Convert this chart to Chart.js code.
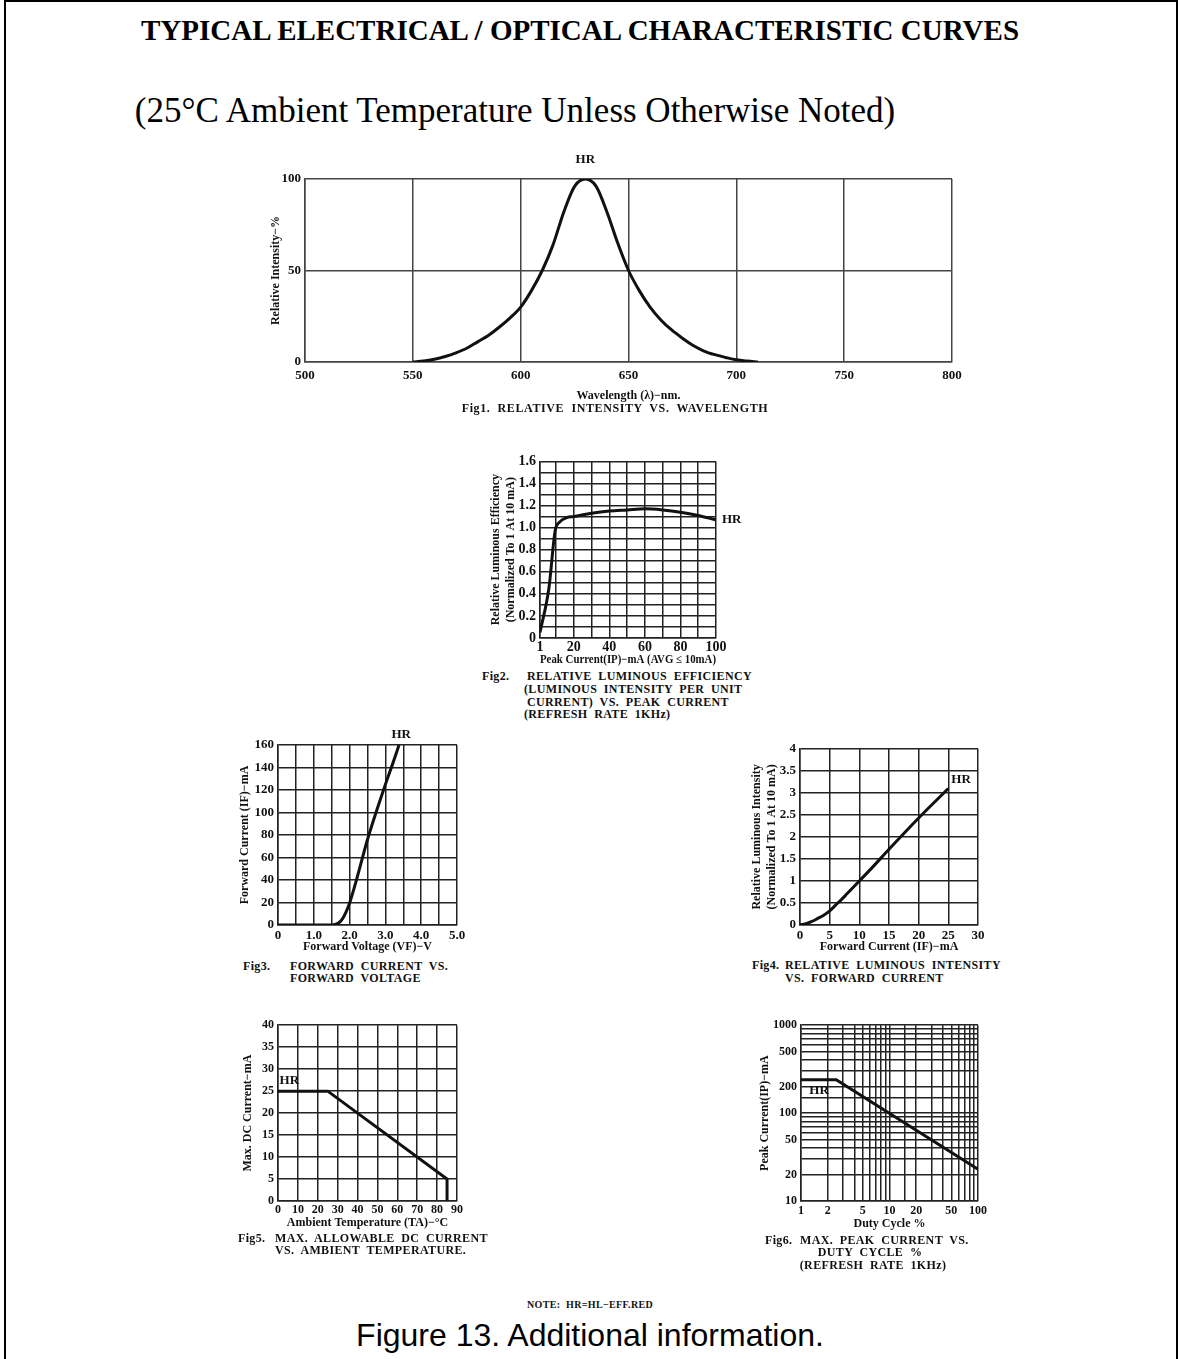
<!DOCTYPE html>
<html lang="en">
<head>
<meta charset="UTF-8">
<title>Typical Electrical / Optical Characteristic Curves</title>
<script src="https://cdn.jsdelivr.net/npm/chart.js"></script>
<style>
    html, body { margin: 0; padding: 0; background: #fff; }
    body { width: 1181px; height: 1359px; position: relative; overflow: hidden; }
    .frame { position: absolute; left: 4px; top: 0; width: 1174px; height: 1380px; border: 2px solid #000; box-sizing: border-box; }
    canvas { position: absolute; }
    .txt { position: absolute; white-space: pre; font-family: "Liberation Serif", serif; font-weight: bold; font-size: 12px; letter-spacing: 0.35px; color: #111; line-height: 1; }
    .c { transform: translate(-50%, -50%); }
    .l { transform: translate(0, -50%); }
    .head { font-size: 29px; letter-spacing: 0; color: #000; }
    .sub { font-weight: normal; font-size: 35px; letter-spacing: 0; color: #000; }
    .foot { font-family: "Liberation Sans", Arial, sans-serif; font-weight: normal; font-size: 32px; letter-spacing: 0; color: #000; }
</style>
</head>
<body>
<div class="frame"></div>

<div class="txt head c" style="left:580px;top:30px">TYPICAL ELECTRICAL / OPTICAL CHARACTERISTIC CURVES</div>
<div class="txt sub c" style="left:515px;top:110px">(25°C Ambient Temperature Unless Otherwise Noted)</div>

<canvas id="fig1"></canvas>
<canvas id="fig2"></canvas>
<canvas id="fig3"></canvas>
<canvas id="fig4"></canvas>
<canvas id="fig5"></canvas>
<canvas id="fig6"></canvas>

<div class="txt c" style="left:615px;top:408px;letter-spacing:0.6px">Fig1.  RELATIVE  INTENSITY  VS.  WAVELENGTH</div>

<div class="txt l" style="left:482px;top:676px">Fig2.</div>
<div class="txt l" style="left:527px;top:676px">RELATIVE  LUMINOUS  EFFICIENCY</div>
<div class="txt l" style="left:524px;top:689px">(LUMINOUS  INTENSITY  PER  UNIT</div>
<div class="txt l" style="left:527px;top:702px">CURRENT)  VS.  PEAK  CURRENT</div>
<div class="txt l" style="left:524px;top:714px">(REFRESH  RATE  1KHz)</div>

<div class="txt l" style="left:243px;top:966px">Fig3.</div>
<div class="txt l" style="left:290px;top:966px">FORWARD  CURRENT  VS.</div>
<div class="txt l" style="left:290px;top:978px">FORWARD  VOLTAGE</div>

<div class="txt l" style="left:752px;top:965px">Fig4.</div>
<div class="txt l" style="left:785px;top:965px">RELATIVE  LUMINOUS  INTENSITY</div>
<div class="txt l" style="left:785px;top:978px">VS.  FORWARD  CURRENT</div>

<div class="txt l" style="left:238px;top:1238px">Fig5.</div>
<div class="txt l" style="left:275px;top:1238px">MAX.  ALLOWABLE  DC  CURRENT</div>
<div class="txt l" style="left:275px;top:1250px">VS.  AMBIENT  TEMPERATURE.</div>

<div class="txt l" style="left:765px;top:1240px">Fig6.</div>
<div class="txt l" style="left:800px;top:1240px">MAX.  PEAK  CURRENT  VS.</div>
<div class="txt c" style="left:870px;top:1252px">DUTY  CYCLE  %</div>
<div class="txt c" style="left:873px;top:1265px">(REFRESH  RATE  1KHz)</div>

<div class="txt c" style="left:590px;top:1305px;font-size:10px">NOTE:  HR=HL−EFF.RED</div>
<div class="txt foot c" style="left:590px;top:1335px">Figure 13. Additional information.</div>

<script>
    // Fig1: relative intensity vs wavelength
    const fig1Wavelength = [550, 555, 560, 565, 570, 575, 580, 585, 590, 595, 600, 605, 610, 615, 620, 625, 630,
                            635, 640, 645, 650, 655, 660, 665, 670, 675, 680, 685, 690, 695, 700, 705, 710];
    const fig1Intensity = [0, 0.5, 1.5, 3, 5, 7.5, 11, 14.5, 19, 24, 30, 39, 50, 64, 82, 96, 100,
                           96, 82, 65, 50, 39, 30, 23, 17.5, 13, 9, 6, 4, 2.5, 1.2, 0.5, 0];

    // Fig2: relative luminous efficiency vs peak current
    const fig2Peak = [1, 6, 9.5, 12, 16, 20, 30, 40, 50, 60, 70, 80, 90, 100];
    const fig2Efficiency = [0.05, 0.45, 0.97, 1.05, 1.09, 1.10, 1.13, 1.15, 1.16, 1.17, 1.16, 1.14, 1.11, 1.07];
    const fig2XGrid = [1, 10, 20, 30, 40, 50, 60, 70, 80, 90, 100];
    const fig2XLabels = [1, 20, 40, 60, 80, 100];

    // Fig3: forward current vs forward voltage
    const fig3Voltage = [0, 1.5, 1.6, 1.7, 1.8, 1.9, 2.0, 2.2, 2.5, 2.8, 3.0, 3.2, 3.38];
    const fig3Current = [0, 0, 0.5, 2, 5.5, 11.5, 19.5, 41, 76, 106, 125, 143, 160];

    // Fig4: relative luminous intensity vs forward current
    const fig4Current = [0, 1, 2, 3, 4, 5, 6, 7, 8, 10, 12, 15, 20, 25];
    const fig4Intensity = [0, 0.03, 0.08, 0.15, 0.22, 0.32, 0.45, 0.58, 0.72, 1.0, 1.28, 1.72, 2.43, 3.1];

    // Fig5: max DC current vs ambient temperature
    const fig5Temp = [0, 25, 85, 85];
    const fig5Current = [25, 25, 5, 0];

    // Fig6: max peak current vs duty cycle (log/log)
    const fig6Duty = [1, 2.5, 100];
    const fig6Peak = [240, 240, 23];
    const fig6XLabels = [1, 2, 5, 10, 20, 50, 100];
    const fig6YLabels = [10, 20, 50, 100, 200, 500, 1000];

    const INK = '#111';
    const SERIF = '"Liberation Serif", serif';

    const seriesTag = {
        id: 'seriesTag',
        afterDatasetsDraw(chart, args, opts) {
            if (!opts || !opts.text) return;
            const { ctx, scales: { x, y } } = chart;
            ctx.save();
            ctx.font = 'bold 13px ' + SERIF;
            ctx.fillStyle = INK;
            ctx.textAlign = opts.align || 'center';
            ctx.textBaseline = 'middle';
            ctx.fillText(opts.text, x.getPixelForValue(opts.x) + (opts.dx || 0), y.getPixelForValue(opts.y) + (opts.dy || 0));
            ctx.restore();
        }
    };

    function pts(xs, ys) {
        return xs.map((v, i) => ({ x: v, y: ys[i] }));
    }

    // size + place canvas so the plot area lands on the given box
    function figure(id, f) {
        const cv = document.getElementById(id);
        const left = f.plot.l - f.yW - f.pad.l;
        const top = f.plot.t - f.pad.t;
        cv.width = f.plot.r + f.pad.r - left;
        cv.height = f.plot.b + f.xH + f.pad.b - top;
        cv.style.left = left + 'px';
        cv.style.top = top + 'px';

        const grid = { color: f.gridColor || '#222', lineWidth: f.gridWidth || 1.5, drawTicks: false };
        const border = { color: f.gridColor || '#222', width: f.gridWidth || 1.5 };
        const tickFont = { family: SERIF, size: f.tickSize || 13, weight: 'bold' };
        const titleFont = { family: SERIF, size: 12, weight: 'bold', lineHeight: 1.2 };

        const x = Object.assign({
            type: 'linear',
            afterFit(s) { s.height = f.xH; },
            grid, border,
            ticks: { autoSkip: false, maxRotation: 0, padding: f.xTickPad || 4, color: INK, font: tickFont },
            title: { display: true, text: f.xTitle, color: INK, font: titleFont, padding: { top: 0, bottom: 0 } }
        }, f.x);
        x.ticks = Object.assign(x.ticks, f.xTicks || {});

        const y = Object.assign({
            type: 'linear',
            afterFit(s) { s.width = f.yW; },
            grid, border,
            ticks: { autoSkip: false, padding: 4, color: INK, font: tickFont },
            title: { display: true, text: f.yTitle, color: INK, font: titleFont, padding: { top: f.yTitlePad, bottom: 0 } }
        }, f.y);
        y.ticks = Object.assign(y.ticks, f.yTicks || {});

        return new Chart(cv, {
            type: 'line',
            data: {
                datasets: [{
                    data: f.data,
                    borderColor: INK,
                    borderWidth: 3,
                    pointRadius: 0,
                    fill: false,
                    tension: f.smooth ? 0.4 : 0,
                    cubicInterpolationMode: f.smooth ? 'monotone' : 'default'
                }]
            },
            options: {
                responsive: false,
                animation: false,
                events: [],
                layout: { padding: { left: f.pad.l, right: f.pad.r, top: f.pad.t, bottom: f.pad.b } },
                plugins: { legend: { display: false }, tooltip: { enabled: false }, seriesTag: f.tag },
                scales: { x, y }
            },
            plugins: [seriesTag]
        });
    }

    figure('fig1', {
        plot: { l: 305, t: 179, r: 952, b: 362 },
        yW: 43, xH: 41, pad: { l: 0, r: 20, t: 32, b: 2 },
        gridColor: '#444', tickSize: 13, xTickPad: 6, yTitlePad: 7,
        data: pts(fig1Wavelength, fig1Intensity), smooth: true,
        x: { min: 500, max: 800 }, xTicks: { stepSize: 50 },
        y: { min: 0, max: 100 }, yTicks: { stepSize: 50 },
        xTitle: 'Wavelength (λ)−nm.', yTitle: 'Relative Intensity−%',
        tag: { text: 'HR', x: 630, y: 100, dy: -19 }
    });

    figure('fig2', {
        plot: { l: 540, t: 459, r: 716, b: 638 },
        yW: 54, xH: 29, pad: { l: 0, r: 30, t: 10, b: 2 },
        tickSize: 14, xTickPad: 1, yTitlePad: 3,
        data: pts(fig2Peak, fig2Efficiency), smooth: true,
        x: {
            min: 1, max: 100,
            afterBuildTicks(s) { s.ticks = fig2XGrid.map(v => ({ value: v })); }
        },
        xTicks: { callback: v => fig2XLabels.includes(v) ? String(v) : '' },
        y: { min: 0, max: 1.6 },
        yTicks: {
            stepSize: 0.1,
            callback: v => {
                const t = Math.round(v * 10);
                if (t % 2) return '';
                return t === 0 ? '0' : (t / 10).toFixed(1);
            }
        },
        xTitle: 'Peak Current(IP)−mA (AVG ≤ 10mA)',
        yTitle: ['Relative Luminous Efficiency', '(Normalized To 1 At 10 mA)'],
        tag: { text: 'HR', x: 100, y: 1.07, dx: 6, align: 'left' }
    });

    figure('fig3', {
        plot: { l: 278, t: 745, r: 457, b: 925 },
        yW: 41, xH: 29, pad: { l: 0, r: 20, t: 22, b: 2 },
        xTickPad: 3, yTitlePad: 1,
        data: pts(fig3Voltage, fig3Current), smooth: true,
        x: { min: 0, max: 5 },
        xTicks: {
            stepSize: 0.5,
            callback: v => Math.abs(v - Math.round(v)) > 1e-6 ? '' : (v === 0 ? '0' : v.toFixed(1))
        },
        y: { min: 0, max: 160 }, yTicks: { stepSize: 20 },
        xTitle: 'Forward Voltage (VF)−V', yTitle: 'Forward Current (IF)−mA',
        tag: { text: 'HR', x: 3.44, y: 160, dy: -10 }
    });

    figure('fig4', {
        plot: { l: 800, t: 747, r: 978, b: 925 },
        yW: 54, xH: 29, pad: { l: 0, r: 22, t: 10, b: 2 },
        xTickPad: 3, yTitlePad: 4,
        data: pts(fig4Current, fig4Intensity), smooth: true,
        x: { min: 0, max: 30 }, xTicks: { stepSize: 5 },
        y: { min: 0, max: 4 }, yTicks: { stepSize: 0.5, callback: v => String(v) },
        xTitle: 'Forward Current (IF)−mA',
        yTitle: ['Relative Luminous Intensity', '(Normalized To 1 At 10 mA)'],
        tag: { text: 'HR', x: 25.5, y: 3.3, align: 'left' }
    });

    figure('fig5', {
        plot: { l: 278, t: 1024, r: 457, b: 1201 },
        yW: 40, xH: 29, pad: { l: 0, r: 20, t: 10, b: 2 },
        xTickPad: 2, yTitlePad: 3, tickSize: 12,
        data: pts(fig5Temp, fig5Current), smooth: false,
        x: { min: 0, max: 90 }, xTicks: { stepSize: 10 },
        y: { min: 0, max: 40 }, yTicks: { stepSize: 5 },
        xTitle: 'Ambient Temperature (TA)−°C', yTitle: 'Max. DC Current−mA',
        tag: { text: 'HR', x: 0.8, y: 27.3, align: 'left' }
    });

    figure('fig6', {
        plot: { l: 801, t: 1024, r: 978, b: 1201 },
        yW: 46, xH: 30, pad: { l: 0, r: 22, t: 10, b: 2 },
        xTickPad: 3, yTitlePad: 3, tickSize: 12,
        data: pts(fig6Duty, fig6Peak), smooth: false,
        x: { type: 'logarithmic', min: 1, max: 100 },
        xTicks: { callback: v => fig6XLabels.includes(v) ? String(v) : '' },
        y: { type: 'logarithmic', min: 10, max: 1000 },
        yTicks: { callback: v => fig6YLabels.includes(v) ? String(v) : '' },
        xTitle: 'Duty Cycle %', yTitle: 'Peak Current(IP)−mA',
        tag: { text: 'HR', x: 1.24, y: 180, align: 'left' }
    });
</script>
</body>
</html>
